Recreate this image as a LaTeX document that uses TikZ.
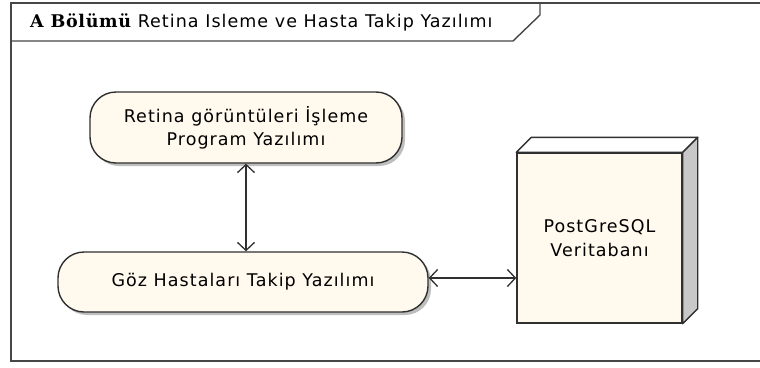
\documentclass[tikz,border=0pt]{standalone}
\usepackage{fontspec}
\setmainfont{DejaVu Sans}
\newfontfamily\eafont[LetterSpace=6]{DejaVu Sans}
\newfontfamily\eatitle[LetterSpace=4]{DejaVu Serif}
\definecolor{eacream}{RGB}{255,249,238}
\definecolor{eaedge}{RGB}{48,48,48}
\definecolor{eaframe}{RGB}{70,70,70}
\definecolor{easide}{RGB}{200,200,200}
\definecolor{eashade}{RGB}{190,190,190}
\usetikzlibrary{arrows.meta,positioning,calc}

\begin{document}
\begin{tikzpicture}[x=1pt,y=-1pt,
  activity/.style={draw=eaedge,line width=1.4pt,fill=eacream,rounded corners=26pt,
    align=center,inner sep=0pt,font=\eafont\fontsize{17.5}{23}\selectfont,
    preaction={fill=eashade,transform canvas={xshift=3pt,yshift=-3pt}}},
  devnode/.style={draw=eaedge,line width=1.4pt,fill=eacream,align=center,inner sep=0pt,
    minimum width=165pt,minimum height=170pt,font=\eafont\fontsize{17.5}{24}\selectfont},
  devface/.style={draw=eaedge,line width=1.4pt,line join=round},
  link/.style={eaedge,line width=1.3pt,
    {Straight Barb[length=8pt,width=17pt]}-{Straight Barb[length=8pt,width=17pt]}}]
  \useasboundingbox (0,0) rectangle (760,367);
  % frame and tab
  \draw[eaframe,line width=1.8pt] (11,3) rectangle (775,361);
  \draw[eaframe,line width=1.4pt] (11,41) -- (513,41) -- (540,15) -- (540,3);
  \node[anchor=west,inner sep=0pt,font=\eafont\fontsize{17.5}{20}\selectfont] (title) at (30,22)
    {{\eatitle\bfseries A Bölümü} Retina Isleme ve Hasta Takip Yazılımı};

  % activities
  \node[activity,minimum width=312pt,minimum height=71pt] (retina) at (246,127.5)
    {Retina görüntüleri İşleme\\Program Yazılımı};
  \node[activity,minimum width=370pt,minimum height=60pt] (goz) at (243,282)
    {Göz Hastaları Takip Yazılımı};

  % database node
  \node[devnode] (db) at (599.5,238) {PostGreSQL\\Veritabanı};
  \draw[devface,fill=white] (db.north west) -- ++(15,-15)
    -- ($(db.north east)+(15,-15)$) -- (db.north east) -- cycle;
  \draw[devface,fill=easide] (db.north east) -- ++(15,-15)
    -- ($(db.south east)+(15,-15)$) -- (db.south east) -- cycle;

  % links
  \draw[link] (retina.south) -- (retina.south |- goz.north);
  \draw[link] ([yshift=4pt]goz.east) -- ([yshift=4pt]goz.east -| db.west);
\end{tikzpicture}
\end{document}
